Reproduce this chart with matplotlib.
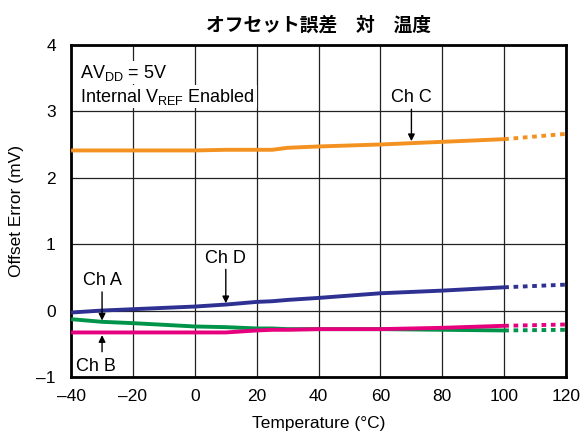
import matplotlib
matplotlib.use('Agg')
from matplotlib import pyplot as plt

# measured data (solid part, -40..100 C)
temp = [-40, -30, -20, 0, 10, 20, 25, 30, 40, 60, 80, 100]
ch_a = [-0.13, -0.17, -0.19, -0.24, -0.25, -0.27, -0.27, -0.28, -0.28, -0.28, -0.29, -0.30]
ch_b = [-0.33, -0.33, -0.33, -0.33, -0.33, -0.30, -0.29, -0.29, -0.28, -0.28, -0.26, -0.23]
ch_c = [2.41, 2.41, 2.41, 2.41, 2.42, 2.42, 2.42, 2.45, 2.47, 2.50, 2.54, 2.58]
ch_d = [-0.03, 0.00, 0.02, 0.06, 0.09, 0.13, 0.14, 0.16, 0.19, 0.26, 0.30, 0.35]

# extrapolated part (dotted, 100..120 C)
temp_ext = [100, 120]
ch_a_ext = [-0.30, -0.29]
ch_b_ext = [-0.23, -0.21]
ch_c_ext = [2.58, 2.66]
ch_d_ext = [0.35, 0.39]

xticks = [-40, -20, 0, 20, 40, 60, 80, 100, 120]
xlabels = ['–40', '–20', '0', '20', '40', '60', '80', '100', '120']
yticks = [-1, 0, 1, 2, 3, 4]
ylabels = ['–1', '0', '1', '2', '3', '4']

plt.rcParams['font.family'] = ['Liberation Sans', 'DejaVu Sans']

fig = plt.figure(figsize=(5.83, 4.44), dpi=100)
ax = fig.add_axes([0.122, 0.151, 0.849, 0.748])

colors = {'A': '#00934a', 'B': '#e6007e', 'C': '#f39220', 'D': '#2e3192'}
lw = 2.8
for y, ye, c in [(ch_c, ch_c_ext, colors['C']), (ch_d, ch_d_ext, colors['D']),
                 (ch_a, ch_a_ext, colors['A']), (ch_b, ch_b_ext, colors['B'])]:
    ax.plot(temp, y, color=c, lw=lw, solid_capstyle='butt', zorder=3)
    ax.plot(temp_ext, ye, color=c, lw=lw, linestyle=(0, (1.2, 1.2)), zorder=3)

ax.set_xlim(-40, 120)
ax.set_ylim(-1, 4)
ax.set_xticks(xticks)
ax.set_xticklabels(xlabels)
ax.set_yticks(yticks)
ax.set_yticklabels(ylabels)
ax.tick_params(length=0, labelsize=12.5)
ax.tick_params(axis='x', pad=9)
ax.tick_params(axis='y', pad=11)
ax.grid(True, color='#222222', lw=0.9)
ax.set_axisbelow(True)
for s in ax.spines.values():
    s.set_linewidth(2)

ax.set_xlabel('Temperature (°C)', fontsize=12.5, labelpad=8)
ax.set_ylabel('Offset Error (mV)', fontsize=12.5, labelpad=9)
ax.set_title('オフセット誤差　対　温度', fontsize=13.5, fontweight='semibold',
             family=['Noto Sans CJK JP', 'DejaVu Sans'], pad=10)

ax.text(-37, 3.58, 'AV$_\\mathregular{DD}$ = 5V', fontsize=13, va='center',
        bbox=dict(fc='white', ec='none', pad=1))
ax.text(-37, 3.22, 'Internal V$_\\mathregular{REF}$ Enabled', fontsize=13, va='center',
        bbox=dict(fc='white', ec='none', pad=1))

arrow = dict(arrowstyle='-|>', color='black', lw=1, mutation_scale=10, shrinkA=0, shrinkB=0)
ax.annotate('Ch A', xy=(-30, -0.15), xytext=(-30, 0.45), ha='center', va='center',
            fontsize=13, arrowprops=arrow)
ax.annotate('', xy=(-30, -0.37), xytext=(-30, -0.62), arrowprops=arrow)
ax.text(-32, -0.84, 'Ch B', ha='center', va='center', fontsize=13,
        bbox=dict(fc='white', ec='none', pad=1))
ax.annotate('Ch D', xy=(10, 0.11), xytext=(10, 0.79), ha='center', va='center',
            fontsize=13, arrowprops=arrow)
ax.annotate('Ch C', xy=(70, 2.55), xytext=(70, 3.2), ha='center', va='center',
            fontsize=13, arrowprops=arrow)

plt.savefig('out.png', dpi=100)
